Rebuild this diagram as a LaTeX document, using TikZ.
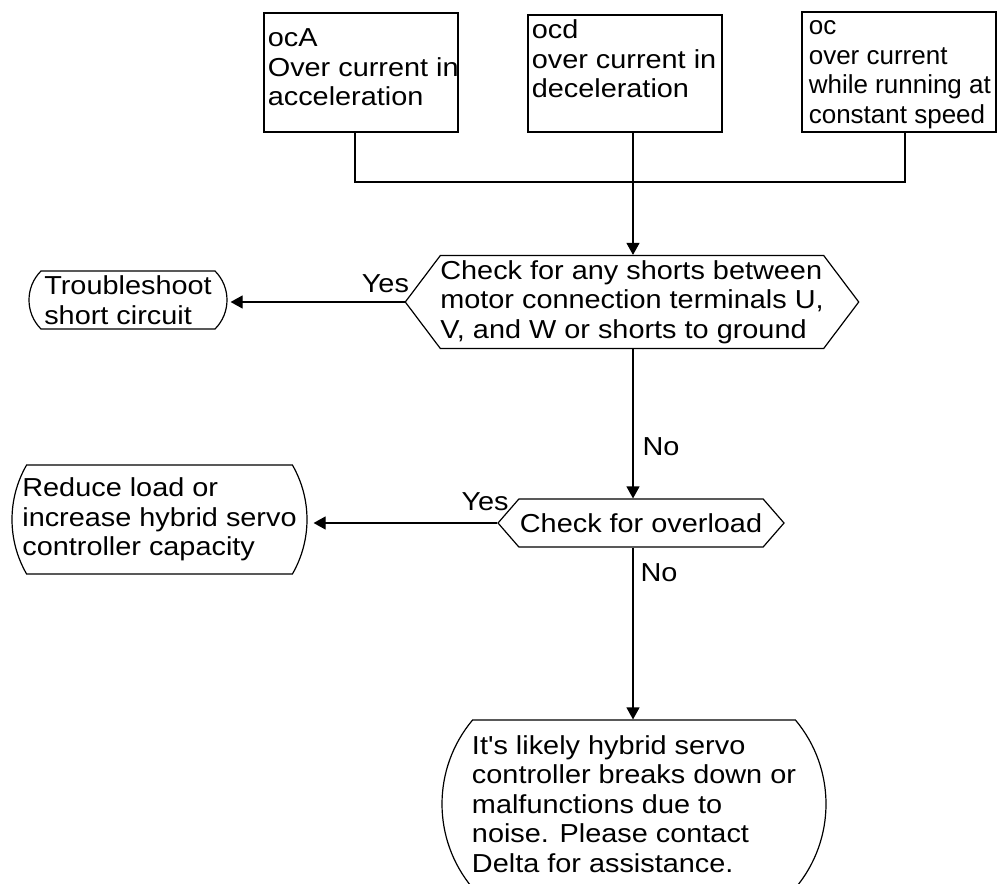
\documentclass[tikz,border=0pt]{standalone}
\usepackage{fontspec}
\setmainfont{Liberation Sans}[FakeStretch=1.11, Ligatures=TeXOff]
\newfontfamily\narrowsans{Liberation Sans}[FakeStretch=1.0]
\usetikzlibrary{shapes.misc, shapes.symbols, arrows.meta, positioning}

\begin{document}
\begin{tikzpicture}[
  x=0.5pt, y=-0.5pt,
  every node/.style={font=\fontsize{13pt}{14.75pt}\selectfont, text=black},
  errbox/.style={rectangle, draw, line width=0.6pt, minimum width=97pt, inner sep=0pt},
  boxtext/.style={anchor=north west, inner sep=0pt, align=left, xshift=2pt},
  check/.style={signal, signal to=west and east, draw, line width=0.6pt,
                align=left, inner sep=0pt},
  result/.style={rounded rectangle, draw, line width=0.6pt, align=left, inner sep=0pt},
  wire/.style={line width=0.6pt},
  flow/.style={line width=0.6pt, -{Triangle[length=6pt, width=6.5pt]}},
  ans/.style={inner sep=0pt},
]
\useasboundingbox (0,0) rectangle (1000,883);

% Fault codes
\node[errbox, minimum height=59.5pt,
      label={[boxtext, yshift=-6.7pt]north west:\strut ocA\\Over current in\\acceleration}]
      (ocA) at (361,72.5) {};
\node[errbox, minimum height=58.5pt,
      label={[boxtext, yshift=-1.7pt]north west:\strut ocd\\over current in\\deceleration}]
      (ocd) at (625,73.5) {};
\node[errbox, minimum height=60pt,
      label={[boxtext, yshift=-1.2pt, xshift=1.5pt, font=\fontsize{13pt}{14.75pt}\narrowsans]
             north west:\strut oc\\over current\\while running at\\constant speed}]
      (oc) at (899,72) {};

% Checks
\node[check, minimum width=225pt, minimum height=46.5pt, signal pointer angle=106]
      (shorts) at (632,302)
      {Check for any shorts between\\motor connection terminals U,\\V, and W or shorts to ground};
\node[check, minimum width=143pt, minimum height=24pt, signal pointer angle=98]
      (load) at (641,523) {Check for overload};

% Results
\node[result, minimum width=99pt, minimum height=29pt, rounded rectangle arc length=90]
      (short) at (128,300) {Troubleshoot\\short circuit};
\node[result, minimum width=147.5pt, minimum height=54.5pt, rounded rectangle arc length=60]
      (reduce) at (159.5,519.5) {Reduce load or\\increase hybrid servo\\controller capacity};
\node[result, minimum width=192pt, minimum height=84pt, rounded rectangle arc length=80]
      (delta) at (634,804)
      {It's likely hybrid servo\\controller breaks down or\\malfunctions due to\\noise. Please contact\\Delta for assistance.};

% Junctions
\coordinate (j1) at (355,182);
\coordinate (j2) at (633,182);
\coordinate (j3) at (905,182);

% Connectors
\draw[wire] (j1 |- ocA.south) -- (j1) -- (j3) -- (j3 |- oc.south);
\draw[flow] (j2 |- ocd.south) -- (j2 |- shorts.north);
\draw[flow] (shorts.west) -- node[ans, at start, anchor=base east, xshift=2.5pt, yshift=5pt]{Yes}
            ([xshift=1.5pt]shorts.west -| short.east);
\draw[flow] (j2 |- shorts.south) -- node[ans, pos=0.656, anchor=west, xshift=4.5pt]{No}
            (j2 |- load.north);
\draw[flow] (load.west) -- node[ans, at start, anchor=base east, xshift=6pt, yshift=6.5pt]{Yes}
            ([xshift=3pt]load.west -| reduce.east);
\draw[flow] (j2 |- load.south) -- node[ans, pos=0.146, anchor=west, xshift=3.5pt]{No}
            (j2 |- delta.north);

\end{tikzpicture}
\end{document}
